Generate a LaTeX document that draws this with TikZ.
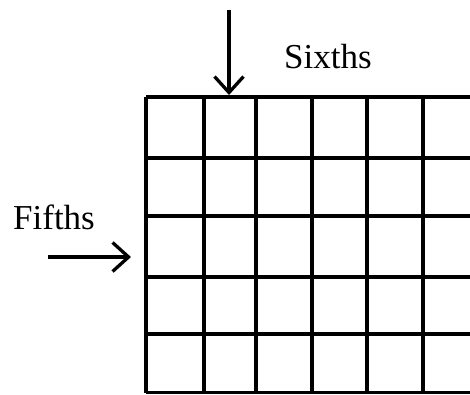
\documentclass[tikz,border=0pt]{standalone}
\usepackage{fontspec}
\setmainfont{Liberation Serif}
\usetikzlibrary{arrows.meta}

\begin{document}
\begin{tikzpicture}[x=1pt, y=-1pt, >={Straight Barb[length=16pt, width=29pt]},
    gridline/.style={line width=3.8pt},
    pointer/.style={->, line width=3.3pt},
    label/.style={font=\fontsize{35}{40}\selectfont, inner sep=0pt}]
  % Fix the page size
  \useasboundingbox (0,0) rectangle (470,394);
  \clip (0,0) rectangle (470,394);

  % Horizontal lines (five rows)
  \foreach \y in {97,158,216,277,334,392.5}
    \draw[gridline] (146,\y) -- (480,\y);

  % Vertical lines (six columns, the last one runs off the page)
  \foreach \x in {146,204,256,312,367,423}
    \draw[gridline] (\x,97) -- (\x,392.5);

  % Labels
  \node[label] (sixths) at (328,57) {Sixths};
  \node[label] (fifths) at (54,217) {Fifths};

  % Arrows pointing into the grid
  \coordinate (sixths start) at (229,10);
  \coordinate (sixths end) at (229,95);
  \draw[pointer] (sixths start) -- (sixths end);

  \coordinate (fifths start) at (48,257);
  \coordinate (fifths end) at (131,257);
  \draw[pointer] (fifths start) -- (fifths end);
\end{tikzpicture}
\end{document}
